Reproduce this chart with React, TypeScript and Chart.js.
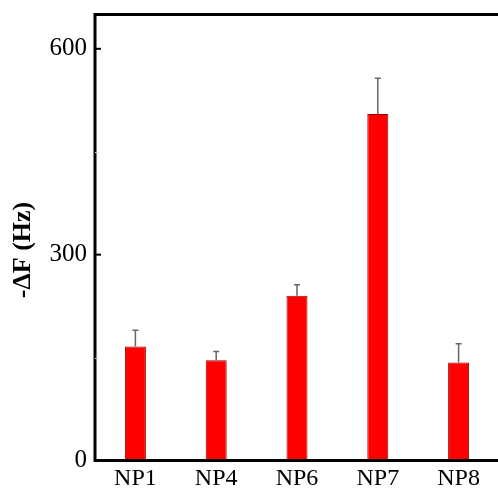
import React, { useEffect, useRef } from "react";
import { Chart, registerables } from "chart.js";

Chart.register(...registerables);

const categories = ["NP1", "NP4", "NP6", "NP7", "NP8"];
const values = [166, 146, 240, 505, 143];
const errors = [24, 13, 16, 52, 27];
const yTicks = [0, 300, 600];
const yMinorTicks = [150, 450];
const yTitle = "-ΔF (Hz)";

const FONT = "'Liberation Serif', 'Times New Roman', serif";

const framePlugin = {
  id: "frame",
  afterDatasetsDraw(chart: any) {
    const { ctx, chartArea, scales } = chart;
    const y = scales.y;
    const x = scales.x;
    ctx.save();
    // error bars
    ctx.strokeStyle = "#666666";
    ctx.lineWidth = 1.5;
    values.forEach((v, i) => {
      const cx = x.getPixelForValue(i);
      const yTop = y.getPixelForValue(v + errors[i]);
      const yBar = y.getPixelForValue(v);
      ctx.beginPath();
      ctx.moveTo(cx, yBar);
      ctx.lineTo(cx, yTop);
      ctx.moveTo(cx - 3, yTop);
      ctx.lineTo(cx + 3, yTop);
      ctx.stroke();
    });
    // frame
    ctx.strokeStyle = "#000";
    ctx.lineWidth = 3;
    ctx.beginPath();
    ctx.moveTo(chartArea.right + 3, chartArea.top);
    ctx.lineTo(chartArea.left, chartArea.top);
    ctx.lineTo(chartArea.left, chartArea.bottom);
    ctx.lineTo(chartArea.right + 3, chartArea.bottom);
    ctx.stroke();
    // major ticks inward
    ctx.lineWidth = 2;
    yTicks.forEach((t) => {
      const py = y.getPixelForValue(t);
      ctx.beginPath();
      ctx.moveTo(chartArea.left, py);
      ctx.lineTo(chartArea.left + 6, py);
      ctx.stroke();
    });
    ctx.strokeStyle = "#cccccc";
    ctx.lineWidth = 1;
    yMinorTicks.forEach((t) => {
      const py = Math.round(y.getPixelForValue(t)) + 0.5;
      ctx.beginPath();
      ctx.moveTo(chartArea.left, py);
      ctx.lineTo(chartArea.left + 3, py);
      ctx.stroke();
    });
    // y-axis title
    ctx.fillStyle = "#000";
    ctx.font = `bold 26px ${FONT}`;
    ctx.textAlign = "center";
    ctx.textBaseline = "middle";
    ctx.translate(23, (chartArea.top + chartArea.bottom) / 2 + 12.5);
    ctx.rotate(-Math.PI / 2);
    ctx.fillText(yTitle, 0, 0);
    ctx.restore();
  },
};

const zeroPad = (s: any) => {
  s.paddingTop = 0;
  s.paddingBottom = 0;
  s.paddingLeft = 0;
  s.paddingRight = 0;
};

export default function App() {
  const ref = useRef<HTMLCanvasElement>(null);
  useEffect(() => {
    if (!ref.current) return;
    const chart = new Chart(ref.current, {
      type: "bar",
      data: {
        labels: categories,
        datasets: [
          {
            data: values,
            backgroundColor: "#ff0000",
            borderColor: "#a00000",
            borderWidth: 1,
            barPercentage: 0.26,
            categoryPercentage: 1,
          },
        ],
      },
      options: {
        responsive: false,
        animation: false,
        layout: { padding: { left: 0, right: 1, top: 14.5, bottom: 0 } },
        plugins: { legend: { display: false }, tooltip: { enabled: false } },
        scales: {
          x: {
            grid: { display: false, drawTicks: false },
            border: { display: false },
            ticks: { color: "#000", font: { family: FONT, size: 24 }, padding: 4 },
            afterFit: (s: any) => {
              s.height = 29.5;
              zeroPad(s);
            },
          },
          y: {
            min: 0,
            max: 650,
            afterBuildTicks: (s: any) => {
              s.ticks = yTicks.map((v) => ({ value: v }));
            },
            grid: { display: false, drawTicks: false },
            border: { display: false },
            ticks: { color: "#000", font: { family: FONT, size: 25 }, padding: 8 },
            title: { display: false },
            afterFit: (s: any) => {
              s.width = 95;
              zeroPad(s);
            },
          },
        },
      },
      plugins: [framePlugin],
    });
    return () => chart.destroy();
  }, []);
  return (
    <div style={{ position: "fixed", left: 0, top: 0, width: 498, height: 490, overflow: "hidden", background: "#fff" }}>
      <canvas ref={ref} width={500} height={490} style={{ display: "block" }} />
    </div>
  );
}
